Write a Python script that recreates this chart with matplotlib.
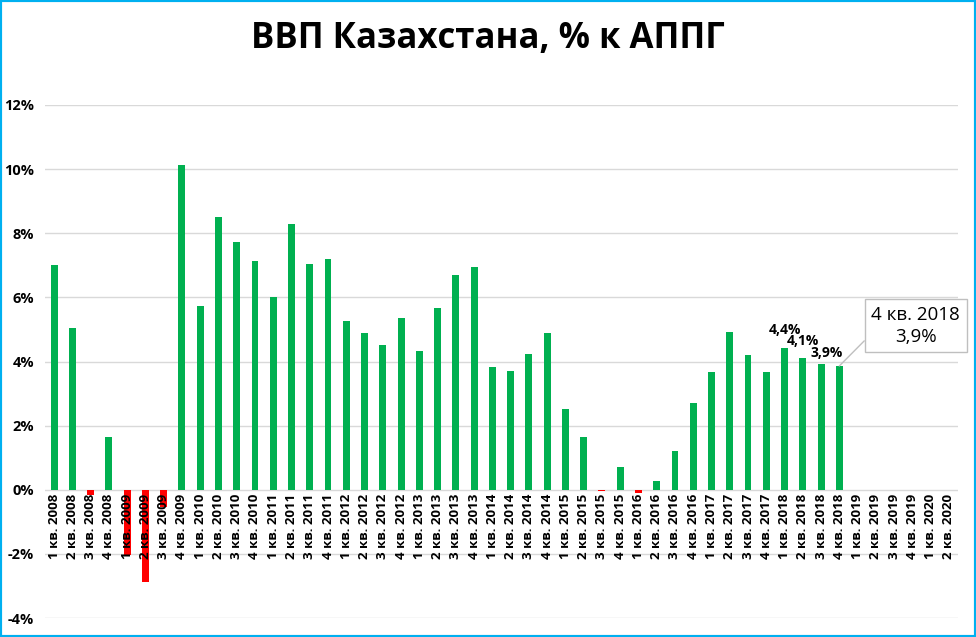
import matplotlib.pyplot as plt
from matplotlib.patches import Rectangle
from matplotlib.ticker import FuncFormatter, MultipleLocator

plt.rcParams['font.family'] = ['Open Sans', 'DejaVu Sans']

quarters = ["1 кв.", "2 кв.", "3 кв.", "4 кв."]
years = list(range(2008, 2021))
categories = [f"{q} {y}" for y in years for q in quarters][:50]

gdp = [7.0, 5.05, -0.15, 1.65,
       -2.03, -2.89, -0.53, 10.13,
       5.74, 8.51, 7.73, 7.14,
       6.02, 8.29, 7.04, 7.2,
       5.27, 4.89, 4.52, 5.36,
       4.33, 5.67, 6.7, 6.95,
       3.83, 3.71, 4.24, 4.89,
       2.52, 1.65, -0.03, 0.72,
       -0.1, 0.28, 1.22, 2.71,
       3.68, 4.92, 4.21, 3.68,
       4.43, 4.1, 3.92, 3.86]

labelled = {"1 кв. 2018": "4,4%", "2 кв. 2018": "4,1%", "3 кв. 2018": "3,9%"}
label_offsets = {"1 кв. 2018": (0, 8), "2 кв. 2018": (0, 7.5), "3 кв. 2018": (4, 3)}
callout_cat = "4 кв. 2018"
callout_text = "4 кв. 2018\n3,9%"

fig = plt.figure(figsize=(9.76, 6.37), dpi=100)
ax = fig.add_axes([45/976, 1-618/637, 913/976, 513/637])

x = list(range(len(gdp)))
colors = ['#00B050' if v >= 0 else '#FF0000' for v in gdp]
ax.bar(x, gdp, width=0.38, color=colors, zorder=2)

ax.set_xlim(-0.5, len(categories) - 0.5)
ax.set_ylim(-4, 12)
ax.yaxis.set_major_locator(MultipleLocator(2))
ax.yaxis.set_major_formatter(FuncFormatter(lambda v, p: f"{v:.0f}%"))
for v in range(-4, 13, 2):
    ax.axhline(v, color='#D9D9D9', lw=1, zorder=0)
ax.set_xticks([])
ax.tick_params(axis='y', length=0, pad=8, labelsize=10.5)
for lab in ax.get_yticklabels():
    lab.set_fontweight('bold')
for s in ax.spines.values():
    s.set_visible(False)

for i, c in enumerate(categories):
    ax.annotate(c, (i, 0), xytext=(0, -3), textcoords='offset points',
                rotation=90, ha='center', va='top', fontsize=9.5,
                fontweight='bold', zorder=5)

for c, t in labelled.items():
    i = categories.index(c)
    ax.annotate(t, (i, gdp[i]), xytext=label_offsets[c], textcoords='offset points',
                ha='center', va='bottom', fontsize=10, fontweight='bold')

ci = categories.index(callout_cat)
ax.annotate(callout_text, (ci, gdp[ci]), xytext=(55, 29), textcoords='offset points',
            ha='center', va='center', fontsize=13.5, linespacing=1.3,
            bbox=dict(boxstyle='square,pad=0.35', fc='white', ec='#BFBFBF', lw=1),
            arrowprops=dict(arrowstyle='-', color='#BFBFBF', lw=1,
                            shrinkA=0, shrinkB=0, relpos=(0, 0.3)))

fig.text(0.5, 1-39/637, "ВВП Казахстана, % к АППГ", ha='center', va='center',
         fontsize=25, fontweight='bold')

fig.patches.append(Rectangle((0, 0), 1, 1, transform=fig.transFigure, fill=False,
                             ec='#00B0F0', lw=3))

fig.savefig("out.png", dpi=100)
